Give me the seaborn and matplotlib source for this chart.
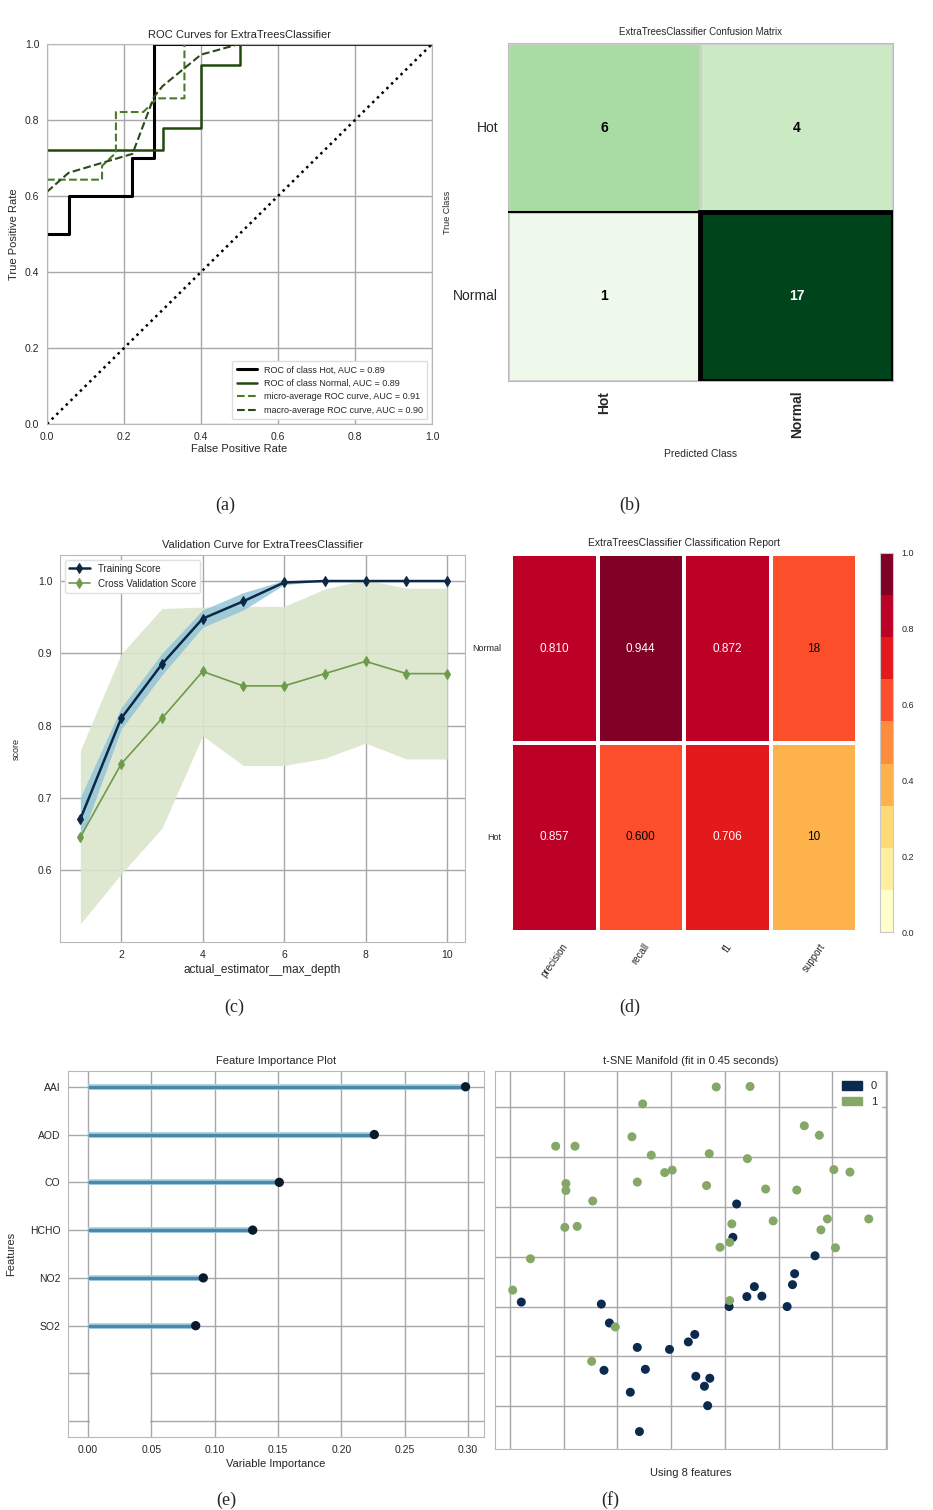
import numpy as np
import pandas as pd
import seaborn as sns
import matplotlib.pyplot as plt
from matplotlib.colors import ListedColormap
from matplotlib.patches import Rectangle, Patch

sns.set_style("whitegrid", {"grid.color": "#a8a8a8", "axes.edgecolor": "#b8b8b8"})
plt.rcParams['font.family'] = ['Liberation Sans Narrow', 'Liberation Sans', 'DejaVu Sans']
plt.rcParams['grid.linewidth'] = 1.0

# ---- (a) ROC curves ----
hot_fpr = [0.0, 0.056, 0.056, 0.222, 0.222, 0.278, 0.278, 1.0]
hot_tpr = [0.5, 0.5, 0.6, 0.6, 0.7, 0.7, 1.0, 1.0]
normal_fpr = [0.0, 0.3, 0.3, 0.4, 0.4, 0.5, 0.5, 1.0]
normal_tpr = [0.722, 0.722, 0.778, 0.778, 0.944, 0.944, 1.0, 1.0]
micro_fpr = [0.0, 0.143, 0.143, 0.179, 0.179, 0.25, 0.286, 0.357, 0.357, 1.0]
micro_tpr = [0.643, 0.643, 0.679, 0.714, 0.821, 0.821, 0.857, 0.857, 1.0, 1.0]
macro_fpr = [0.0, 0.056, 0.222, 0.278, 0.3, 0.4, 0.5, 1.0]
macro_tpr = [0.611, 0.661, 0.711, 0.861, 0.889, 0.972, 1.0, 1.0]
roc_labels = ['ROC of class Hot, AUC = 0.89', 'ROC of class Normal, AUC = 0.89',
              'micro-average ROC curve, AUC = 0.91', 'macro-average ROC curve, AUC = 0.90']

# ---- (b) confusion matrix ----
cm_classes = ['Hot', 'Normal']
cm_values = [[6, 4], [1, 17]]

# ---- (c) validation curve ----
depth = [1, 2, 3, 4, 5, 6, 7, 8, 9, 10]
train_mean = [0.671, 0.810, 0.885, 0.948, 0.972, 0.998, 1.0, 1.0, 1.0, 1.0]
train_std = [0.030, 0.015, 0.015, 0.012, 0.012, 0.003, 0.0, 0.0, 0.0, 0.0]
cv_mean = [0.646, 0.747, 0.810, 0.875, 0.855, 0.855, 0.872, 0.889, 0.872, 0.872]
cv_std = [0.120, 0.152, 0.152, 0.089, 0.110, 0.110, 0.117, 0.113, 0.118, 0.118]

# ---- (d) classification report ----
report_rows = ['Normal', 'Hot']
report_cols = ['precision', 'recall', 'f1', 'support']
precision = [0.810, 0.857]
recall = [0.944, 0.600]
f1 = [0.872, 0.706]
support = [18, 10]

# ---- (e) feature importance ----
features = ['AAI', 'AOD', 'CO', 'HCHO', 'NO2', 'SO2']
importance = [0.298, 0.226, 0.151, 0.130, 0.091, 0.085]

# ---- (f) t-SNE ----
tsne_x1 = [8.4, 14.7, -5.3, 24.8, 27.6, -7.3, -21.5, -17.9, -3.7, 7.1, 14.2, 30.3, 33.3,
           -1.2, 0.2, -6.3, -19.6, -19.6, 6.6, 17.6, 23.4, -14.6, 29.1, 36.8, 19.0, 11.3,
           27.9, -19.8, -17.5, 10.9, 9.1, 30.6, -26.2, -29.5, 10.9, -10.4, -14.8]
tsne_y1 = [34.1, 34.2, 30.7, 26.3, 24.4, 24.1, 22.2, 22.2, 20.4, 20.7, 19.7, 17.5, 17.0,
           16.9, 17.4, 15.0, 14.7, 13.3, 14.3, 13.6, 13.4, 11.2, 7.6, 7.6, 7.2, 6.6,
           5.4, 5.9, 6.1, 2.9, 1.9, 1.8, -0.4, -6.7, -8.8, -14.1, -21.0]
tsne_x0 = [12.2, 11.5, 26.8, 23.0, 22.6, 15.5, 14.1, 16.9, 10.8, 21.6, -27.9, -13.0, -11.5,
           4.4, 3.2, -6.3, -0.3, -12.5, -4.8, 4.6, 7.2, 6.2, -7.6, 6.8, -5.9]
tsne_y0 = [10.6, 3.9, 0.2, -3.4, -5.6, -6.0, -8.0, -7.9, -10.0, -10.0, -9.1, -9.5, -13.3,
           -15.6, -17.1, -18.2, -18.6, -22.8, -22.6, -24.0, -24.4, -26.0, -27.2, -29.9, -35.1]

W, H = 933, 1510
fig = plt.figure(figsize=(W / 100, H / 100), dpi=100)


def box(left, top, right, bottom):
    return [left / W, 1 - bottom / H, (right - left) / W, (bottom - top) / H]


tick_fs = 7.5

# (a)
ax = fig.add_axes(box(47, 44, 432, 424))
sns.lineplot(x=hot_fpr, y=hot_tpr, sort=False, estimator=None, color='black', lw=2.2,
             label=roc_labels[0], ax=ax)
sns.lineplot(x=normal_fpr, y=normal_tpr, sort=False, estimator=None, color='#1f4a0c', lw=1.8,
             label=roc_labels[1], ax=ax)
sns.lineplot(x=micro_fpr, y=micro_tpr, sort=False, estimator=None, color='#4c7a2c', lw=1.5,
             linestyle='--', label=roc_labels[2], ax=ax)
sns.lineplot(x=macro_fpr, y=macro_tpr, sort=False, estimator=None, color='#2a4a18', lw=1.5,
             linestyle='--', label=roc_labels[3], ax=ax)
ax.plot([0, 1], [0, 1], color='black', linestyle=':', lw=1.8)
ax.set_xlim(0, 1)
ax.set_ylim(0, 1)
ax.set_xticks(np.arange(0, 1.01, 0.2))
ax.set_yticks(np.arange(0, 1.01, 0.2))
ax.tick_params(labelsize=tick_fs, pad=2)
ax.set_title('ROC Curves for ExtraTreesClassifier', fontsize=8, pad=4)
ax.set_xlabel('False Positive Rate', fontsize=8, labelpad=2)
ax.set_ylabel('True Positive Rate', fontsize=8, labelpad=4)
ax.legend(loc='lower right', fontsize=6.5, frameon=True, framealpha=1, edgecolor='#dddddd',
          handlelength=2.2, borderpad=0.5, labelspacing=0.5)

# (b)
ax = fig.add_axes(box(508, 43, 893, 381))
cm_df = pd.DataFrame(cm_values, index=cm_classes, columns=cm_classes)
sns.heatmap(cm_df, cmap='Greens', vmin=0, vmax=17, annot=True, fmt='d', cbar=False,
            linewidths=0.8, linecolor='#cfcfcf', annot_kws={'fontsize': 10, 'fontweight': 'bold'},
            ax=ax)
for t in ax.texts:
    t.set_color('white' if t.get_text() == '17' else 'black')
ax.add_patch(Rectangle((1, 1), 1, 1, fill=False, edgecolor='black', lw=3.5, zorder=5))
ax.plot([0, 1], [1, 1], color='black', lw=1.5, zorder=5)
for s in ax.spines.values():
    s.set_visible(True)
    s.set_color('#bdbdbd')
ax.tick_params(left=False, bottom=False)
ax.set_yticklabels(cm_classes, rotation=0, fontsize=10)
ax.set_xticklabels(cm_classes, rotation=90, fontsize=10, fontweight='bold')
ax.set_title('ExtraTreesClassifier Confusion Matrix', fontsize=7, pad=6)
ax.set_xlabel('Predicted Class', fontsize=7.5, labelpad=8)
ax.set_ylabel('True Class', fontsize=6.5)
ax.yaxis.set_label_coords(-0.145, 0.5)

# (c)
ax = fig.add_axes(box(60, 555, 465, 942))
tm, ts = np.array(train_mean), np.array(train_std)
cvm, cvs = np.array(cv_mean), np.array(cv_std)
ax.fill_between(depth, cvm - cvs, cvm + cvs, color='#dbe6cc', alpha=0.9, lw=0)
ax.fill_between(depth, tm - ts, tm + ts, color='#8ec3d8', alpha=0.8, lw=0)
sns.lineplot(x=depth, y=train_mean, color='#0b2846', marker='d', markersize=5, lw=1.8,
             markeredgecolor='#0b2846', label='Training Score', ax=ax)
sns.lineplot(x=depth, y=cv_mean, color='#6e9a4a', marker='d', markersize=5, lw=1.2,
             markeredgecolor='#6e9a4a', label='Cross Validation Score', ax=ax)
ax.set_xlim(0.5, 10.44)
ax.set_ylim(0.501, 1.036)
ax.set_xticks([2, 4, 6, 8, 10])
ax.set_yticks([0.6, 0.7, 0.8, 0.9, 1.0])
ax.tick_params(labelsize=tick_fs, pad=2)
ax.set_title('Validation Curve for ExtraTreesClassifier', fontsize=8, pad=5)
ax.set_xlabel('actual_estimator__max_depth', fontsize=8.5, labelpad=3)
ax.set_ylabel('score', fontsize=6.5, labelpad=12)
ax.legend(loc='upper left', fontsize=7, frameon=True, framealpha=1, edgecolor='#e0e0e0',
          handlelength=2.2)

# (d)
ax = fig.add_axes(box(511, 554, 857, 932))
cax = fig.add_axes(box(880, 553, 893, 932))
report = pd.DataFrame({'precision': precision, 'recall': recall, 'f1': f1, 'support': support},
                      index=report_rows)
colors = report.copy().astype(float)
colors['support'] = report['support'] / report['support'].sum()
labels = report.copy().astype(object)
for c in ['precision', 'recall', 'f1']:
    labels[c] = report[c].map(lambda v: f'{v:.3f}')
labels['support'] = report['support'].astype(str)
ylorrd9 = ListedColormap(['#ffffcc', '#ffeda0', '#fed976', '#feb24c', '#fd8d3c',
                          '#fc4e2a', '#e31a1c', '#bd0026', '#800026'])
sns.heatmap(colors, cmap=ylorrd9, vmin=0, vmax=1, annot=labels.values, fmt='',
            linewidths=1.5, linecolor='white', annot_kws={'fontsize': 8.5},
            cbar_ax=cax, ax=ax)
flat = colors.values.flatten()
for t, v in zip(ax.texts, flat):
    t.set_color('white' if v > 0.65 else 'black')
ax.tick_params(left=False, bottom=False)
ax.set_yticklabels(report_rows, rotation=0, fontsize=6.5)
ax.set_xticklabels(report_cols, rotation=55, fontsize=7, ha='center', va='top')
ax.set_title('ExtraTreesClassifier Classification Report', fontsize=7.5, pad=6)
cax.set_yticks([0, 0.2, 0.4, 0.6, 0.8, 1.0])
cax.set_yticklabels(['0.0', '0.2', '0.4', '0.6', '0.8', '1.0'])
cax.tick_params(labelsize=6.5, length=0, pad=6)
for s in cax.spines.values():
    s.set_visible(True)
    s.set_color('#c8c8c8')

# (e)
ax = fig.add_axes(box(68, 1071, 484, 1437))
ypos = np.arange(len(features))
ax.hlines(ypos, 0, importance, color='#a9d3e3', lw=4.2, zorder=2)
ax.hlines(ypos, 0, importance, color='#4a8aa8', lw=2.4, zorder=2.1)
sns.scatterplot(x=importance, y=ypos, color='#0a1a2c', s=45, edgecolor='none', zorder=3, ax=ax)
ax.add_patch(Rectangle((0.0012, 5.6), 0.0476, 2.0, facecolor='white', edgecolor='none', zorder=1))
ax.set_yticks(np.arange(8))
ax.set_yticklabels(features + ['', ''])
ax.set_ylim(7.33, -0.33)
ax.set_xlim(-0.0158, 0.3126)
ax.set_xticks(np.arange(0, 0.31, 0.05))
ax.set_xticklabels([f'{v:.2f}' for v in np.arange(0, 0.31, 0.05)])
ax.tick_params(labelsize=tick_fs, pad=2)
ax.set_title('Feature Importance Plot', fontsize=8, pad=5)
ax.set_xlabel('Variable Importance', fontsize=8, labelpad=3)
ax.set_ylabel('Features', fontsize=8, labelpad=10)

# (f)
ax = fig.add_axes(box(495, 1071, 887, 1449))
tsne = pd.DataFrame({'x': tsne_x0 + tsne_x1, 'y': tsne_y0 + tsne_y1,
                     'label': ['0'] * len(tsne_x0) + ['1'] * len(tsne_x1)})
pal = {'0': '#0b2a4e', '1': '#86a866'}
sns.scatterplot(data=tsne, x='x', y='y', hue='label', palette=pal, s=42, edgecolor='none',
                legend=False, zorder=3, ax=ax)
ax.set_xlim(-32.8, 40.2)
ax.set_ylim(-38.6, 37.3)
ax.set_xticks(np.arange(-30, 41, 10))
ax.set_yticks(np.arange(-30, 31, 10))
ax.set_xticklabels([])
ax.set_yticklabels([])
ax.tick_params(length=0)
ax.set_ylabel('')
ax.set_title('t-SNE Manifold (fit in 0.45 seconds)', fontsize=8, pad=5)
ax.set_xlabel('Using 8 features', fontsize=8, labelpad=10)
ax.legend(handles=[Patch(color=pal['0'], label='0'), Patch(color=pal['1'], label='1')],
          loc='upper right', fontsize=8, frameon=True, framealpha=1, edgecolor='white',
          handlelength=1.8, handleheight=0.8)

# sub labels
for lab, (px, py) in zip(['(a)', '(b)', '(c)', '(d)', '(e)', '(f)'],
                         [(225, 505), (630, 505), (234, 1007), (630, 1007), (226, 1500), (610, 1500)]):
    fig.text(px / W, 1 - py / H, lab, ha='center', va='center', fontsize=13,
             family=['Liberation Serif', 'DejaVu Serif'])

fig.savefig('out.png', dpi=100)
